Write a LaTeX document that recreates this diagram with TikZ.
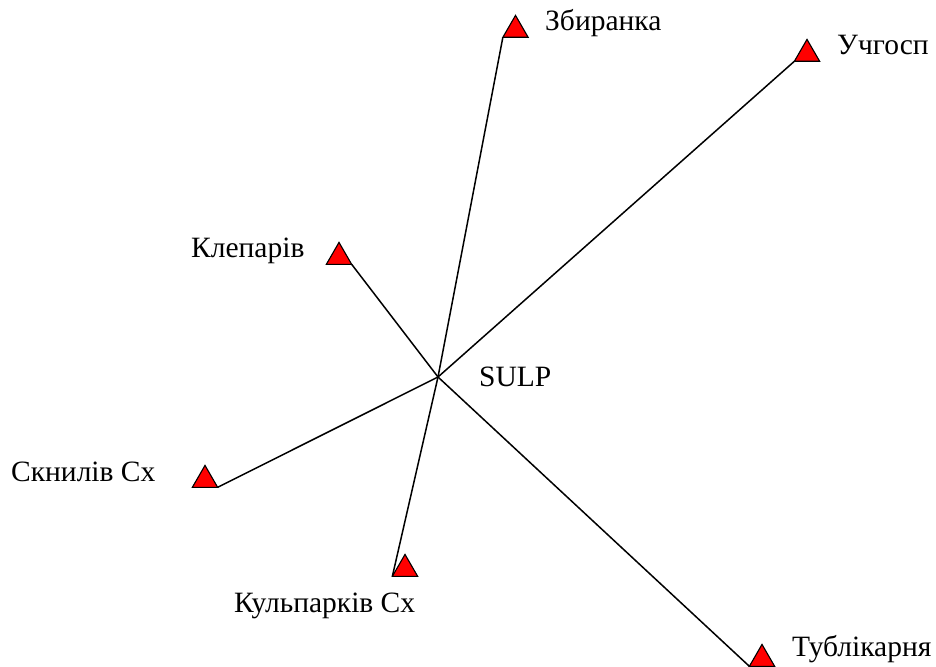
\documentclass[tikz,border=0pt]{standalone}
\usepackage{fontspec}
\setmainfont{Liberation Serif}
\usetikzlibrary{shapes.geometric}

\begin{document}
\begin{tikzpicture}[x=1pt,y=-1pt,
pt/.style = {% station marks
    regular polygon, regular polygon sides=3, minimum size=27pt,
    inner sep=0pt, fill=red, draw=black, line width=1.1pt,
            },
lbl/.style = {% station names
    anchor=base west, inner sep=0pt, font=\fontsize{29.5}{32}\selectfont,
            },
ray/.style = {draw=black, line width=1.5pt},
                        ]
  \useasboundingbox (0,0) rectangle (936,666);

  % centre point
  \coordinate (sulp) at (438,377);
  \node[lbl] (sulpname) at (479,386) {SULP};

  % stations
  \node[pt] (zbir)  at (515.5,30) {};
  \node[pt] (uch)   at (807,54)   {};
  \node[pt] (klep)  at (339,257)  {};
  \node[pt] (sknyl) at (205,480)  {};
  \node[pt] (kulp)  at (405,569)  {};
  \node[pt] (tubl)  at (762,659)  {};

  % rays from the centre
  \draw[ray] (sulp) -- (zbir.corner 2);
  \draw[ray] (sulp) -- (uch.corner 2);
  \draw[ray] (sulp) -- (klep.corner 3);
  \draw[ray] (sulp) -- (sknyl.corner 3);
  \draw[ray] (sulp) -- (kulp.corner 2);
  \draw[ray] (sulp) -- (tubl.corner 2);

  % redraw marks over the rays
  \foreach \s in {zbir,uch,klep,sknyl,kulp,tubl}
    \draw[pt] (\s.corner 1) -- (\s.corner 2) -- (\s.corner 3) -- cycle;

  \node[lbl] (zbirname)  at (545,31)  {Збиранка};
  \node[lbl] (uchname)   at (837,55)  {Учгосп};
  \node[lbl] (klepname)  at (191,257) {Клепарів};
  \node[lbl] (sknylname) at (11,481)  {Скнилів Сх};
  \node[lbl] (kulpname)  at (234,612) {Кульпарків Сх};
  \node[lbl] (tublname)  at (792,656) {Тублікарня};
\end{tikzpicture}
\end{document}
